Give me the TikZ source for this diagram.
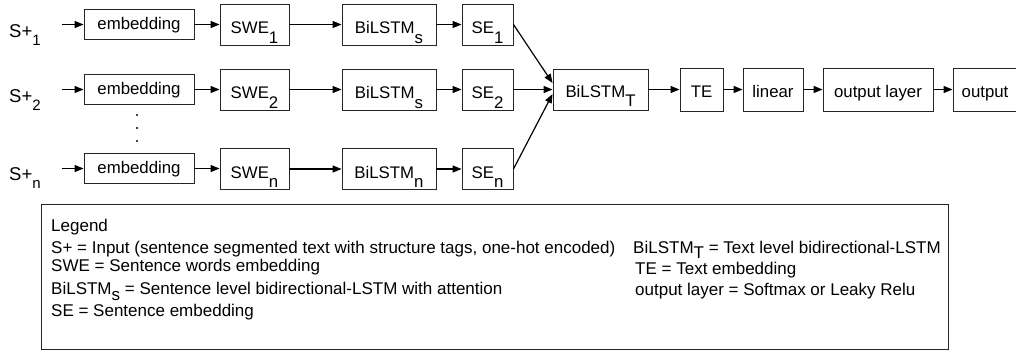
\documentclass[tikz,border=0pt]{standalone}
\usepackage{fontspec}
\setmainfont{Liberation Sans}
\usetikzlibrary{arrows.meta}
\newcommand\bsub[1]{\raisebox{-9.5pt}{#1}}
\newcommand\lsub[1]{\raisebox{-5.5pt}{#1}}
\newcommand\isub[1]{\raisebox{-8.5pt}{\fontsize{15}{16}\selectfont #1}}
\begin{document}
\begin{tikzpicture}[x=1pt,y=-1pt,
  box/.style={draw=black!85, line width=0.9pt, inner sep=0pt,
    font=\fontsize{16.8}{19}\selectfont, text height=14pt, text depth=4pt},
  subbox/.style={box, text height=22pt, text depth=4pt, minimum height=41pt},
  tbox/.style={box, text height=19pt, text depth=4pt},
  embbox/.style={box, minimum width=110pt, minimum height=30pt},
  swebox/.style={subbox, minimum width=69pt},
  lstmbox/.style={subbox, minimum width=94pt},
  sebox/.style={subbox, minimum width=51pt},
  lab/.style={anchor=base west, inner sep=0pt, font=\fontsize{18.5}{20}\selectfont},
  legtext/.style={anchor=base west, inner sep=0pt, font=\fontsize{17}{19}\selectfont},
  arr/.style={-{Triangle[length=9pt,width=7pt]}, line width=1.2pt, black},
  dot/.style={fill=black, circle, inner sep=0pt, minimum size=2.4pt}
]
\useasboundingbox (0,0) rectangle (1016,351);

% input labels
\node[lab] (l1) at (9,37) {S+\isub{1}};
\node[lab] (l2) at (9,102) {S+\isub{2}};
\node[lab] (ln) at (9,180) {S+\isub{n}};
\coordinate (a1) at (62,24.5);
\coordinate (a2) at (62,89.5);
\coordinate (an) at (62,168.5);

% row 1
\node[embbox] (e1) at (139,24.5) {embedding};
\node[swebox] (w1) at (254.5,24.5) {SWE\bsub{1}};
\node[lstmbox] (b1) at (389,24.5) {BiLSTM\bsub{s}};
\node[sebox] (s1) at (487.5,24.5) {SE\bsub{1}};
% row 2
\node[embbox] (e2) at (139,89.5) {embedding};
\node[swebox] (w2) at (254.5,89.5) {SWE\bsub{2}};
\node[lstmbox] (b2) at (389,89.5) {BiLSTM\bsub{s}};
\node[sebox] (s2) at (487.5,89.5) {SE\bsub{2}};
% row n
\node[embbox] (en) at (139,168.5) {embedding};
\node[swebox] (wn) at (254.5,169) {SWE\bsub{n}};
\node[lstmbox] (bn) at (389,169) {BiLSTM\bsub{n}};
\node[sebox] (sn) at (487.5,169) {SE\bsub{n}};

% dots
\node[dot] (d1) at (137,115) {};
\node[dot] (d2) at (137,128) {};
\node[dot] (d3) at (137,141) {};

% text level
\node[subbox, minimum width=95pt, text height=19pt] (T) at (600.5,89.5) {BiLSTM\bsub{T}};
\node[tbox, minimum width=43pt, minimum height=43pt] (te) at (701.5,89.5) {TE};
\node[tbox, minimum width=60pt, minimum height=43pt] (lin) at (773,89.5) {linear};
\node[tbox, minimum width=110pt, minimum height=43pt] (ol) at (878,89.5) {output layer};
\node[tbox, minimum width=64pt, minimum height=43pt] (out) at (985,89.5) {output};

% arrows
\draw[arr] (a1) -- (e1);
\draw[arr] (a2) -- (e2);
\draw[arr] (an) -- (en);
\draw[arr] (e1) -- (w1);
\draw[arr] (e2) -- (w2);
\draw[arr] (en.east) -- (wn.west |- en.east);
\draw[arr] (w1) -- (b1);
\draw[arr] (w2) -- (b2);
\draw[arr] (wn) -- (bn);
\draw[arr] (b1) -- (s1);
\draw[arr] (b2) -- (s2);
\draw[arr] (bn) -- (sn);
\draw[arr] (s1.east) -- ([yshift=6.5pt]T.west);
\draw[arr] (s2.east) -- (T.west);
\draw[arr] (sn.east) -- ([yshift=-4.5pt]T.west);
\draw[arr] (T) -- (te);
\draw[arr] (te) -- (lin);
\draw[arr] (lin) -- (ol);
\draw[arr] (ol) -- (out);

% legend
\node[draw=black!85, line width=0.9pt, inner sep=0pt, minimum width=907pt, minimum height=145pt, anchor=north west] (leg) at (41,204) {};
\node[legtext] (lg0) at (51,231) {Legend};
\node[legtext] (lg1) at (51,253) {S+ = Input (sentence segmented text with structure tags, one-hot encoded)};
\node[legtext] (lg2) at (51,271.5) {SWE = Sentence words embedding};
\node[legtext] (lg3) at (51,294.5) {BiLSTM\lsub{s} = Sentence level bidirectional-LSTM with attention};
\node[legtext] (lg4) at (51,316) {SE = Sentence embedding};
\node[legtext] (lg5) at (633,253) {BiLSTM\lsub{T} = Text level bidirectional-LSTM};
\node[legtext] (lg6) at (635,274) {TE = Text embedding};
\node[legtext] (lg7) at (635,295.5) {output layer = Softmax or Leaky Relu};
\end{tikzpicture}
\end{document}
